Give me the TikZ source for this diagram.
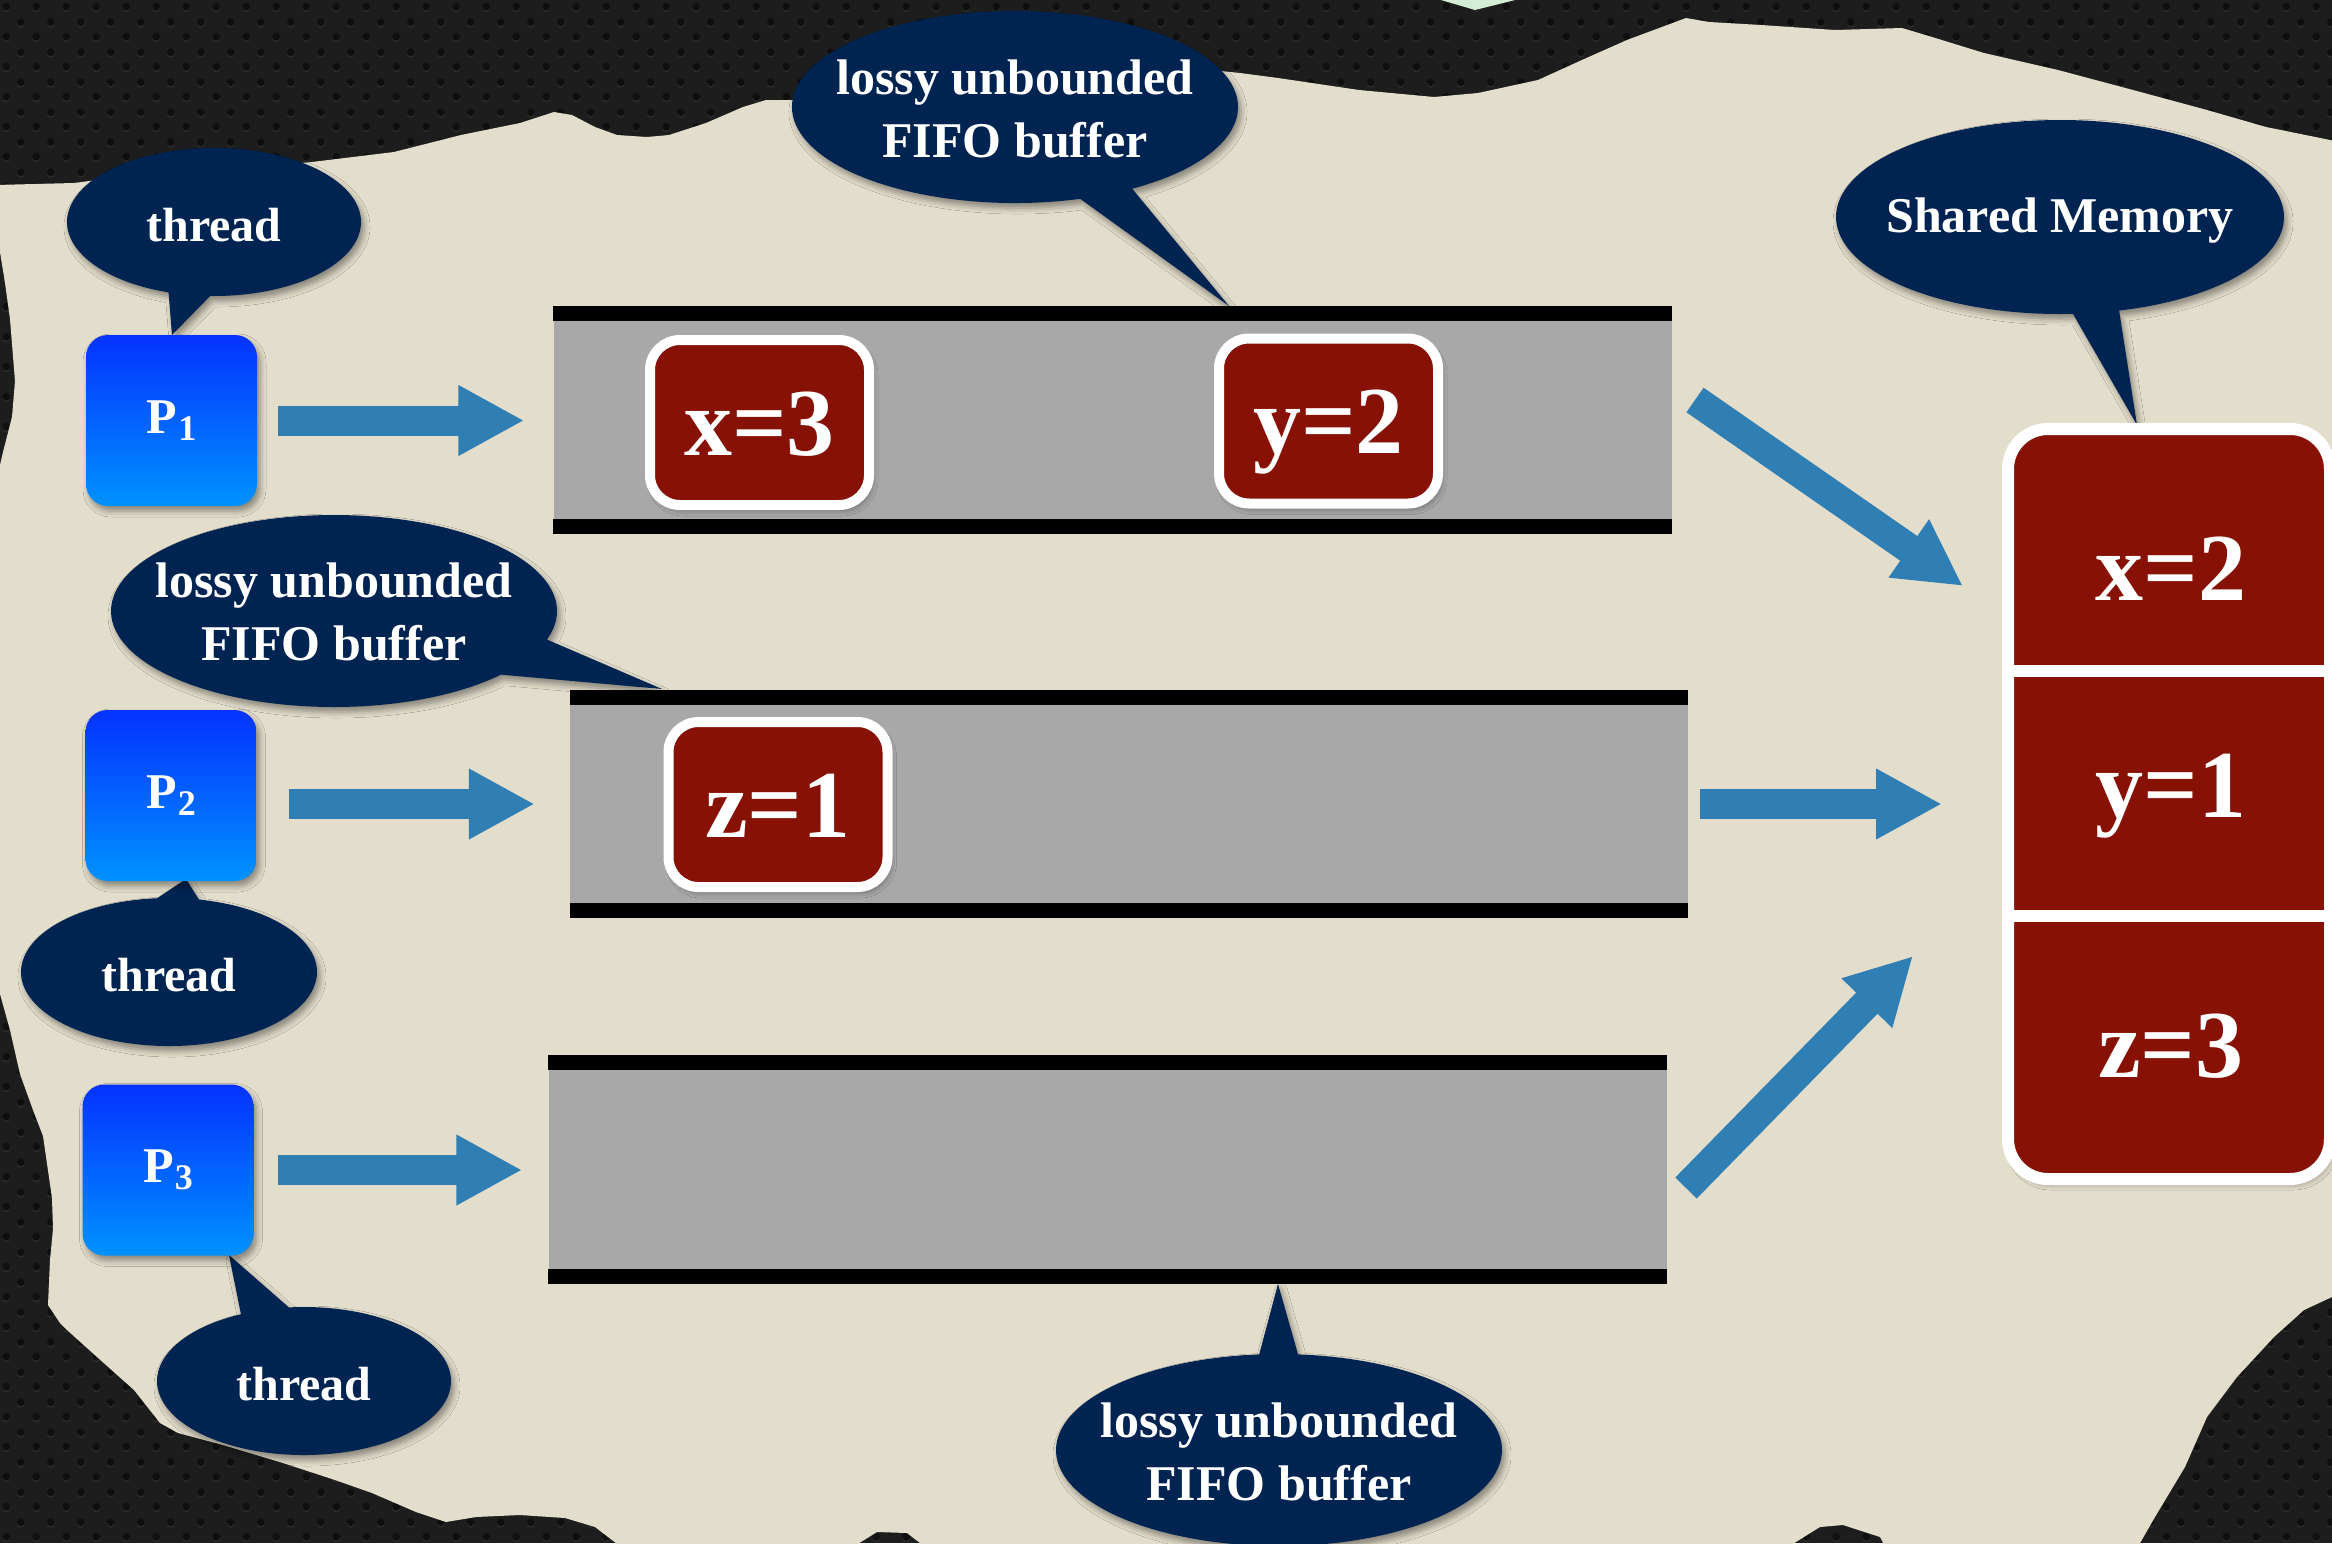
\documentclass[tikz,border=0pt]{standalone}
\usepackage{fontspec}
\setmainfont{Liberation Serif}
\usetikzlibrary{arrows.meta,shadows.blur,patterns.meta,calc}

\definecolor{paper}{RGB}{227,221,203}
\definecolor{slate}{RGB}{29,29,29}
\definecolor{holes}{RGB}{15,15,15}
\definecolor{holerim}{RGB}{44,44,44}
\definecolor{navy}{RGB}{0,36,82}
\definecolor{brick}{RGB}{134,17,4}
\definecolor{pipe}{RGB}{168,168,168}
\definecolor{flow}{RGB}{47,126,180}
\definecolor{ptop}{RGB}{5,50,255}
\definecolor{pbot}{RGB}{0,146,255}
\definecolor{mint}{RGB}{212,238,214}

% perforated dark backdrop: rim highlight and hole, staggered grid
\pgfdeclarepattern{
  name=perfrim, type=uncolored,
  bottom left={\pgfpoint{0pt}{0pt}}, top right={\pgfpoint{30pt}{30pt}},
  tile size={\pgfpoint{30pt}{30pt}},
  code={\pgfpathcircle{\pgfpoint{7.5pt}{6pt}}{4.2pt}
        \pgfpathcircle{\pgfpoint{22.5pt}{21pt}}{4.2pt}\pgfusepath{fill}}}
\pgfdeclarepattern{
  name=perfhole, type=uncolored,
  bottom left={\pgfpoint{0pt}{0pt}}, top right={\pgfpoint{30pt}{30pt}},
  tile size={\pgfpoint{30pt}{30pt}},
  code={\pgfpathcircle{\pgfpoint{7.5pt}{7.5pt}}{4pt}
        \pgfpathcircle{\pgfpoint{22.5pt}{22.5pt}}{4pt}\pgfusepath{fill}}}

\tikzset{
  softshadow/.style={blur shadow={shadow xshift=3pt, shadow yshift=-5pt,
      shadow blur radius=6pt, shadow opacity=40}},
  bubble/.style={fill=navy, softshadow},
  bubbletext/.style={text=white, align=center, inner sep=0pt,
      font=\fontsize{48}{63}\selectfont\bfseries},
  longtext/.style={bubbletext, font=\fontsize{50}{63}\selectfont\bfseries},
  proc/.style={minimum width=171pt, minimum height=171pt, rounded corners=22pt,
      top color=ptop, bottom color=pbot, inner sep=0pt, softshadow,
      text=white, font=\fontsize{50}{50}\selectfont\bfseries},
  pipeline/.style={fill=pipe, inner sep=0pt, minimum width=1118pt, minimum height=228pt},
  token/.style={minimum width=219pt, minimum height=165pt, rounded corners=30pt,
      fill=brick, draw=white, line width=10pt, softshadow, inner sep=0pt,
      text=white, font=\fontsize{96}{96}\selectfont\bfseries,
      text height=65pt, text depth=0pt},
  store/.style={minimum width=322pt, minimum height=750pt, rounded corners=40pt,
      fill=brick, draw=white, line width=12pt, softshadow, inner sep=0pt},
  cellval/.style={text=white, font=\fontsize{96}{96}\selectfont\bfseries,
      text height=65pt, text depth=0pt, inner sep=0pt},
  flowarrow/.style={draw=flow, line width=30pt,
      -{Triangle[length=66pt, width=66pt]}},
}

\newcommand\pname[1]{P\kern1pt\raisebox{-7pt}{\fontsize{36}{36}\selectfont #1}}

\begin{document}
\begin{tikzpicture}[x=1pt, y=-1pt]
\useasboundingbox (0,0) rectangle (2332,1543);
\clip (0,0) rectangle (2332,1543);

% dark perforated backdrop
\fill[slate] (0,0) rectangle (2332,1543);
\fill[pattern=perfrim, pattern color=holerim] (0,0) rectangle (2332,1543);
\fill[pattern=perfhole, pattern color=holes] (0,0) rectangle (2332,1543);
\fill[mint] (1441,0) -- (1515,0) -- (1475,10) -- cycle;

% torn paper sheet
\fill[paper] (-5,185) -- (74,183) -- (97,180) -- (171,175) -- (223,170) -- (312,162)
  -- (394,152) -- (461,135) -- (520,123) -- (554,112) -- (572,115) -- (595,127)
  -- (617,135) -- (647,137) -- (669,135) -- (706,123) -- (743,107) -- (766,100)
  -- (796,100) -- (1000,85) -- (1211,70) -- (1240,73) -- (1278,78) -- (1359,90)
  -- (1434,97) -- (1478,93) -- (1538,80) -- (1582,60) -- (1627,40) -- (1686,18)
  -- (1709,22) -- (1761,25) -- (1835,30) -- (1902,28) -- (1932,37) -- (1984,53)
  -- (2058,70) -- (2133,90) -- (2207,110) -- (2266,127) -- (2340,142)
  -- (2340,1297) -- (2332,1297) -- (2304,1310) -- (2274,1337) -- (2237,1377)
  -- (2207,1417) -- (2185,1467) -- (2155,1517) -- (2136,1550)
  -- (1887,1550) -- (1880,1537) -- (1843,1525) -- (1820,1527) -- (1783,1550)
  -- (929,1550) -- (907,1533) -- (877,1532) -- (848,1550)
  -- (625,1550) -- (595,1527) -- (565,1518) -- (520,1515) -- (476,1517)
  -- (446,1522) -- (416,1512) -- (372,1493) -- (335,1480) -- (283,1463)
  -- (223,1445) -- (178,1433) -- (160,1423) -- (134,1390) -- (97,1357)
  -- (67,1330) -- (60,1323) -- (48,1305) -- (50,1260) -- (53,1229) -- (52,1198)
  -- (43,1136) -- (33,1110) -- (20,1074) -- (10,1030) -- (0,994) -- (-5,994)
  -- (-5,465) -- (0,465) -- (3,452) -- (12,417) -- (15,381) -- (10,319)
  -- (5,283) -- (0,252) -- (-5,252) -- cycle;

% FIFO buffers: grey channel between two black rails
\node[pipeline] (b1) at (1112.5,420) {};
\node[pipeline] (b2) at (1129,804) {};
\node[pipeline] (b3) at (1107.5,1169.5) {};
\foreach \b in {b1,b2,b3}{
  \fill[black] (\b.north west) rectangle ([yshift=-15pt]\b.north east);
  \fill[black] (\b.south west) rectangle ([yshift=15pt]\b.south east);
}

% callouts
\fill[bubble] (214,222) ++(108:147 and 74)
  arc[start angle=108, end angle=451.5, x radius=147, y radius=74] -- (172,335) -- cycle;
\fill[bubble] (1015,107) ++(73:223 and 96)
  arc[start angle=73, end angle=418.3, x radius=223, y radius=96] -- (1229,306) -- cycle;
\fill[bubble] (334,611) ++(41.5:223 and 96)
  arc[start angle=41.5, end angle=377.3, x radius=223, y radius=96] -- (662,689) -- cycle;
\fill[bubble] (169,972) ++(-78.3:148 and 74)
  arc[start angle=-78.3, end angle=265.4, x radius=148, y radius=74] -- (186,879) -- cycle;
\fill[bubble] (304,1381) ++(-95.9:147 and 74)
  arc[start angle=-95.9, end angle=244.6, x radius=147, y radius=74] -- (229,1255) -- cycle;
\fill[bubble] (1279,1450) ++(-85.1:223 and 96)
  arc[start angle=-85.1, end angle=264.9, x radius=223, y radius=96] -- (1278,1284) -- cycle;
\fill[bubble] (2060,217) ++(86.7:224 and 97)
  arc[start angle=86.7, end angle=434.7, x radius=224, y radius=97] -- (2137,425) -- cycle;

\node[bubbletext] (th1) at (214,225) {thread};
\node[longtext] (fifo1) at (1015,109) {lossy unbounded\\FIFO buffer};
\node[longtext] (fifo2) at (334,612) {lossy unbounded\\FIFO buffer};
\node[bubbletext] (th2) at (169,975) {thread};
\node[bubbletext] (th3) at (304,1384) {thread};
\node[longtext] (fifo3) at (1279,1452) {lossy unbounded\\FIFO buffer};
\node[longtext] (shm) at (2060,221) {Shared Memory};

% processes
\node[proc] (p1) at (171.5,420.5) {\pname{1}};
\node[proc] (p2) at (171,795.5) {\pname{2}};
\node[proc] (p3) at (168,1170) {\pname{3}};

% messages waiting in the buffers
\node[token] (t1) at (759.5,422.5) {x=3};
\node[token] (t2) at (1328.5,421) {y=2};
\node[token] (t3) at (778,804.5) {z=1};

% shared memory
\node[store] (mem) at (2169,804) {};
\draw[white, line width=12pt]
  ($(mem.north west)!0.325!(mem.south west)$) -- ($(mem.north east)!0.325!(mem.south east)$);
\draw[white, line width=12pt]
  ($(mem.north west)!0.647!(mem.south west)$) -- ($(mem.north east)!0.647!(mem.south east)$);
\node[cellval] (m1) at (2171,568) {x=2};
\node[cellval] (m2) at (2171,785) {y=1};
\node[cellval] (m3) at (2171,1045) {z=3};

% data flow
\draw[flowarrow, shorten <=21pt, shorten >=29pt] (p1.east) -- (p1.east -| b1.west);
\draw[flowarrow, shorten <=32pt, shorten >=35pt] (p2.east |- b2.west) -- (b2.west);
\draw[flowarrow, shorten <=24pt, shorten >=26pt] (p3.east) -- (p3.east -| b3.west);

\coordinate (outA) at (1695,400);
\coordinate (inA) at (1963,586);
\coordinate (outC) at (1686,1188);
\coordinate (inC) at (1913,956);
\draw[flowarrow] (outA) -- (inA);
\draw[flowarrow, shorten <=12pt, shorten >=60pt] (b2.east) -- (b2.east -| mem.west);
\draw[flowarrow] (outC) -- (inC);
\end{tikzpicture}
\end{document}
